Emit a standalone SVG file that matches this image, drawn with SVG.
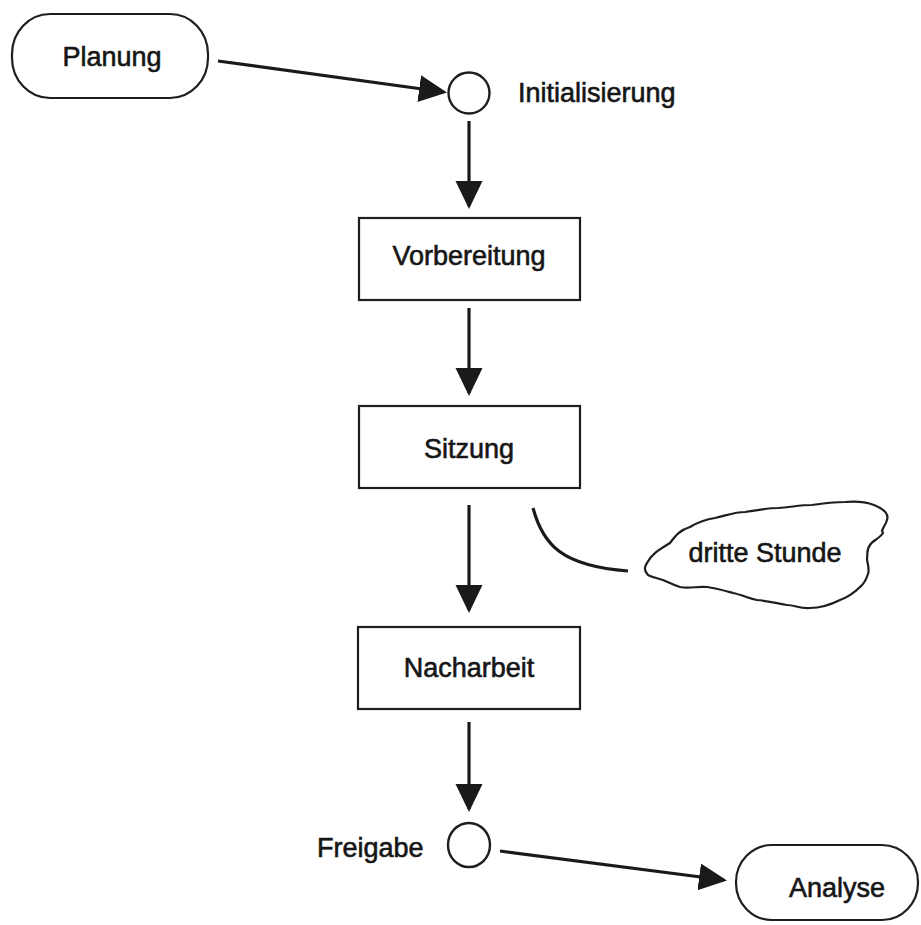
<svg xmlns="http://www.w3.org/2000/svg" width="921" height="925" viewBox="0 0 921 925">
  <style>
    .shape { fill: #ffffff; stroke: #1e1e1e; stroke-width: 2.2; }
    .event { fill: #ffffff; stroke: #1e1e1e; stroke-width: 2.4; }
    .flow { fill: none; stroke: #1a1a1a; stroke-width: 3.2; }
    .label { font-family: "Liberation Sans", Arial, Helvetica, sans-serif; font-size: 27px; fill: #161616; stroke: #161616; stroke-width: 0.6; }
    .mid { text-anchor: middle; }
  </style>
  <defs>
    <marker id="arrow" markerUnits="userSpaceOnUse" markerWidth="30" markerHeight="28" refX="25" refY="13.5" orient="auto">
      <path d="M0,0 L28,13.5 L0,27 Z" fill="#1a1a1a"/>
    </marker>
  </defs>

  <rect width="921" height="925" fill="#ffffff"/>

  <!-- connectors -->
  <g id="connectors">
    <line class="flow" x1="218" y1="61" x2="444" y2="92" marker-end="url(#arrow)"/>
    <line class="flow" x1="469" y1="121" x2="469" y2="206" marker-end="url(#arrow)"/>
    <line class="flow" x1="469" y1="308" x2="469" y2="393" marker-end="url(#arrow)"/>
    <line class="flow" x1="469" y1="505" x2="469" y2="610" marker-end="url(#arrow)"/>
    <line class="flow" x1="469" y1="722" x2="469" y2="809" marker-end="url(#arrow)"/>
    <line class="flow" x1="500" y1="851" x2="724" y2="880" marker-end="url(#arrow)"/>
    <path class="flow" d="M533,508 C543,545 562,566 628,571"/>
  </g>

  <!-- start: Planung -->
  <g id="planung">
    <rect class="shape" x="12" y="14" width="196" height="84" rx="38" ry="40"/>
    <text class="label mid" x="112" y="66">Planung</text>
  </g>

  <!-- event: Initialisierung -->
  <g id="initialisierung">
    <circle class="event" cx="469" cy="93" r="20.5"/>
    <text class="label" x="518" y="102">Initialisierung</text>
  </g>

  <!-- activity: Vorbereitung -->
  <g id="vorbereitung">
    <rect class="shape" x="359" y="218" width="221" height="82"/>
    <text class="label mid" x="469" y="265">Vorbereitung</text>
  </g>

  <!-- activity: Sitzung -->
  <g id="sitzung">
    <rect class="shape" x="359" y="406" width="221" height="82"/>
    <text class="label mid" x="469" y="458">Sitzung</text>
  </g>

  <!-- annotation cloud: dritte Stunde -->
  <g id="dritte-stunde">
    <path class="shape" d="M647,563 C652,553 662,548 670,543 C676,535 680,530 690,527 C700,521 708,519 715,518 C728,515 735,512 745,512 C760,510 768,508 778,508 C792,507 800,505 812,505 C825,503 835,502 845,502 C858,501 866,502 874,505 C884,509 889,514 887,520 C885,527 880,530 883,533 C879,539 872,541 870,545 C866,550 868,553 867,558 C867,564 870,568 868,574 C866,580 864,584 860,587 C854,593 848,597 840,600 C830,605 820,608 810,608 C800,609 795,605 787,605 C775,603 768,601 757,600 C748,598 742,595 733,593 C722,590 715,588 707,587 C697,586 690,589 680,587 C673,585 668,582 663,580 C656,578 652,577 648,575 C644,571 644,567 647,563 Z"/>
    <text class="label mid" x="765" y="562">dritte Stunde</text>
  </g>

  <!-- activity: Nacharbeit -->
  <g id="nacharbeit">
    <rect class="shape" x="358" y="627" width="222" height="82"/>
    <text class="label mid" x="469" y="677">Nacharbeit</text>
  </g>

  <!-- event: Freigabe -->
  <g id="freigabe">
    <ellipse class="event" cx="469" cy="845" rx="21" ry="22"/>
    <text class="label" x="317" y="857">Freigabe</text>
  </g>

  <!-- end: Analyse -->
  <g id="analyse">
    <rect class="shape" x="736" y="845" width="182" height="75" rx="36" ry="37"/>
    <text class="label mid" x="837" y="897">Analyse</text>
  </g>
</svg>
